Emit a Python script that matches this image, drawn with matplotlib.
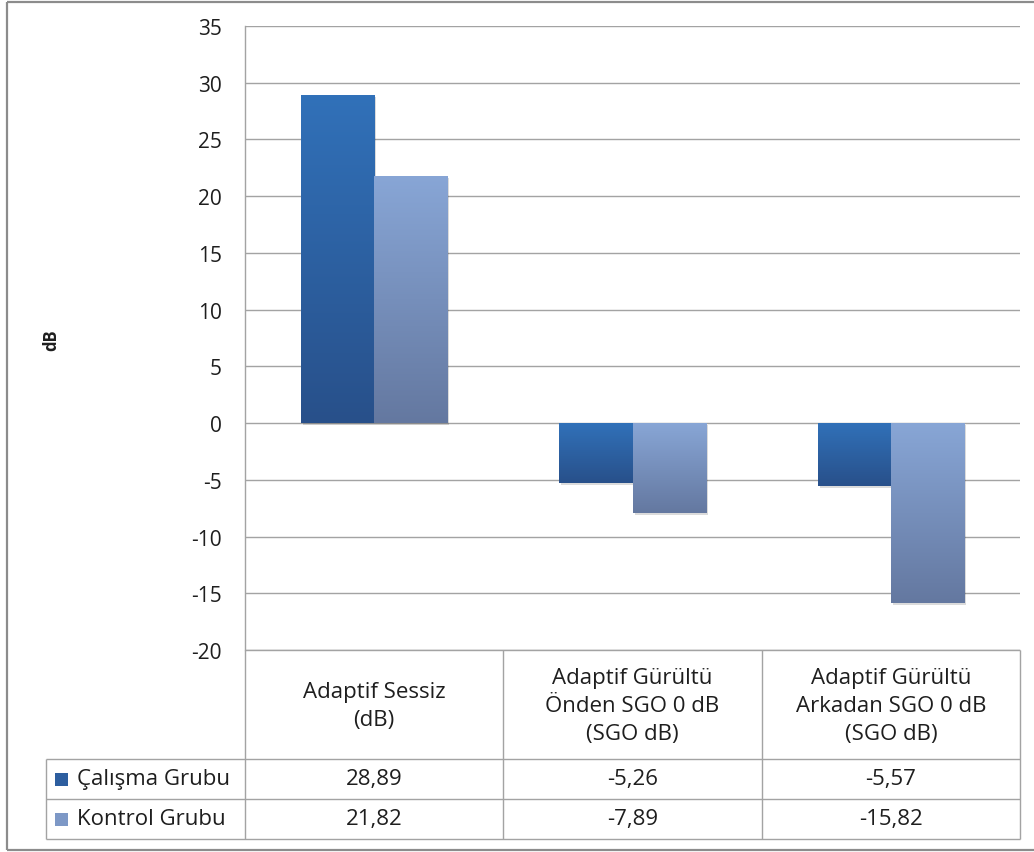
import numpy as np
import matplotlib
matplotlib.use("Agg")
import matplotlib.pyplot as plt
import matplotlib.patheffects as pe
from matplotlib.colors import LinearSegmentedColormap
from matplotlib.patches import Rectangle

plt.rcParams['font.family'] = ['Open Sans', 'DejaVu Sans']

# ---- data -------------------------------------------------------------
categories = [
    "Adaptif Sessiz\n(dB)",
    "Adaptif Gürültü\nÖnden SGO 0 dB\n(SGO dB)",
    "Adaptif Gürültü\nArkadan SGO 0 dB\n(SGO dB)",
]
series_names = ["Çalışma Grubu", "Kontrol Grubu"]
calisma = [28.89, -5.26, -5.57]
kontrol = [21.82, -7.89, -15.82]
y_ticks = [-20, -15, -10, -5, 0, 5, 10, 15, 20, 25, 30, 35]
y_label = "dB"

# ---- styling ----------------------------------------------------------
W, H = 1034, 853
TEXT = "#1e1e1e"
GRID = "#a3a3a3"
series_grad = [("#3171b9", "#28508a"), ("#88a6d6", "#6478a0")]
series_swatch = ["#2d5e9f", "#7d98c6"]
bar_w = 0.283
TABLE_FS = 16
TICK_FS = 15


def fx(px):
    return px / W


def fy(py):
    return 1 - py / H


fig = plt.figure(figsize=(W / 100, H / 100), dpi=100)
fig.patch.set_facecolor("white")

# overlay in pixel units for the outer frame and the data table
ov = fig.add_axes([0, 0, 1, 1], zorder=0)
ov.set_xlim(0, W)
ov.set_ylim(H, 0)
ov.axis("off")

ax = fig.add_axes([fx(245), fy(651), fx(1020) - fx(245), fy(27) - fy(651)], zorder=1)
ax.patch.set_visible(False)

x = np.arange(len(categories))
shadow = [pe.SimplePatchShadow(offset=(1.5, -1.5), shadow_rgbFace="black", alpha=0.14),
          pe.Normal()]

for s, (vals, (c_top, c_bot)) in enumerate(zip([calisma, kontrol], series_grad)):
    offset = (s - 0.5) * bar_w
    cmap = LinearSegmentedColormap.from_list(f"grad{s}", [c_top, c_bot])
    bars = ax.bar(x + offset, vals, bar_w, color=c_bot, edgecolor="none",
                  zorder=2, path_effects=shadow)
    for xi, v, b in zip(x + offset, vals, bars):
        lo, hi = min(0, v), max(0, v)
        img = ax.imshow(np.linspace(0, 1, 256).reshape(-1, 1), cmap=cmap,
                        extent=[xi - bar_w / 2, xi + bar_w / 2, lo, hi],
                        origin="upper", aspect="auto", zorder=3,
                        interpolation="bilinear")
        img.set_clip_path(b)

ax.set_xlim(-0.5, len(categories) - 0.5)
ax.set_ylim(min(y_ticks), max(y_ticks))
ax.set_aspect("auto")
ax.set_yticks(y_ticks)
ax.set_yticklabels([str(t) for t in y_ticks], fontsize=TICK_FS, color=TEXT)
ax.set_xticks([])
ax.tick_params(axis="y", length=0, pad=16.5)
ax.yaxis.grid(True, color=GRID, linewidth=1.0)
ax.set_axisbelow(True)
for side in ["top", "right", "bottom"]:
    ax.spines[side].set_visible(False)
ax.spines["left"].set_color(GRID)
ax.spines["left"].set_linewidth(1.0)

# ---- data table beneath the axes -------------------------------------
bounds = [ax.transData.transform((c - 0.5, 0))[0] for c in range(len(categories) + 1)]
left_tab = 46
y_head_top, y_head_bot, y_row1, y_bot = 651, 760, 800, 840
lkw = dict(color=GRID, linewidth=1.0, solid_capstyle="butt")

ov.plot([bounds[0], bounds[-1]], [y_head_top, y_head_top], **lkw)
for yy in (y_head_bot, y_row1, y_bot):
    ov.plot([left_tab, bounds[-1]], [yy, yy], **lkw)
ov.plot([left_tab, left_tab], [y_head_bot, y_bot], **lkw)
for bx in bounds:
    ov.plot([bx, bx], [y_head_top, y_bot], **lkw)

for i, cat in enumerate(categories):
    cx = (bounds[i] + bounds[i + 1]) / 2
    ov.text(cx, (y_head_top + y_head_bot) / 2 + 1, cat, ha="center", va="center",
            fontsize=TABLE_FS, color=TEXT, linespacing=1.45)

rows_y = [(y_head_bot + y_row1) / 2, (y_row1 + y_bot) / 2]
for name, vals, sw, ry in zip(series_names, [calisma, kontrol], series_swatch, rows_y):
    ov.add_patch(Rectangle((55, ry - 6.5), 13, 13, facecolor=sw, edgecolor="none"))
    ov.text(77, ry, name, ha="left", va="center", fontsize=TABLE_FS, color=TEXT)
    for i, v in enumerate(vals):
        cx = (bounds[i] + bounds[i + 1]) / 2
        ov.text(cx, ry, f"{v:.2f}".replace(".", ","), ha="center", va="center",
                fontsize=TABLE_FS, color=TEXT)

# axis title
ov.text(51, 340, y_label, rotation=90, ha="center", va="center",
        fontsize=12, fontweight="bold", color=TEXT)

# outer chart frame
fkw = dict(color="#8c8c8c", linewidth=1.6, solid_capstyle="butt")
ov.plot([7, 7], [3, 851], **fkw)
ov.plot([7, W], [3, 3], **fkw)
ov.plot([7, W], [851, 851], **fkw)

fig.savefig("out.png", dpi=100, facecolor="white")
